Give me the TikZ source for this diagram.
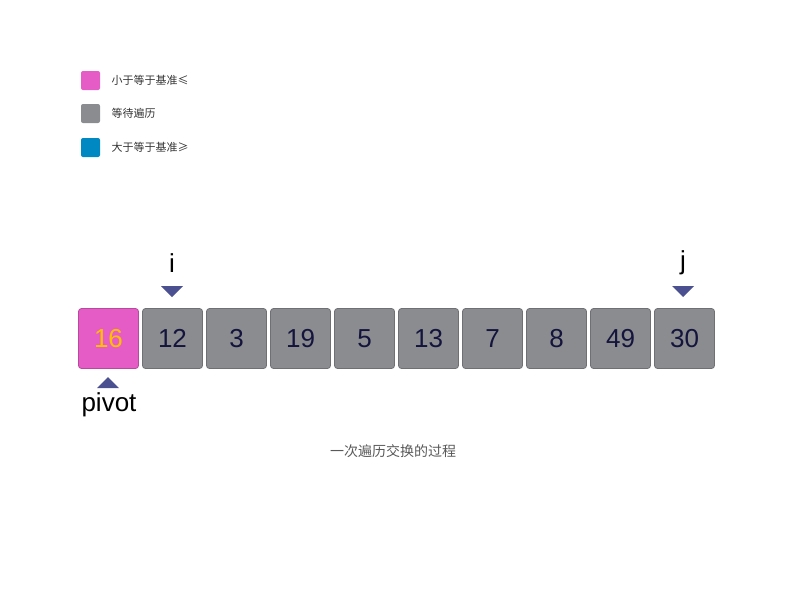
\documentclass[tikz,border=0pt]{standalone}
\usepackage{fontspec}
\setmainfont{Liberation Sans}
\newfontfamily\cjk{Noto Sans CJK SC}
\begin{document}
\begin{tikzpicture}[x=1pt,y=-1pt,
  cell/.style={rounded corners=3pt,draw=#1!80!black,line width=0.8pt,fill=#1,minimum width=60pt,minimum height=60pt,font=\fontsize{26}{26}\selectfont,text=numc,inner sep=0pt},
  leg/.style={rounded corners=2pt,fill=#1,minimum size=19pt,inner sep=0pt},
  legt/.style={anchor=west,font=\cjk\fontsize{11}{11}\selectfont,text=black!80},
  tri/.style={fill=tric,inner sep=0pt}]
\definecolor{pinkc}{HTML}{E65CC6}
\definecolor{grayc}{HTML}{8A8C90}
\definecolor{bluec}{HTML}{0088C2}
\definecolor{tric}{HTML}{4A5090}
\definecolor{numc}{HTML}{14143C}
\definecolor{pivc}{HTML}{FFC000}
\useasboundingbox (0,0) rectangle (800,600);
\node[leg=pinkc] (l1) at (90.5,80.5) {};
\node[leg=grayc] (l2) at (90.5,113.5) {};
\node[leg=bluec] (l3) at (90.5,147.5) {};
\node[legt] (t1) at (108,80.5) {小于等于基准≤};
\node[legt] (t2) at (108,113.5) {等待遍历};
\node[legt] (t3) at (108,147.5) {大于等于基准≥};
\node[cell=pinkc,text=pivc] (c0) at (108.5,338.5) {16};
\foreach \v [count=\k] in {12,3,19,5,13,7,8,49,30}
  \node[cell=grayc] (c\k) at (108.5+64*\k,338.5) {\v};
\fill[tric] (161,286) -- (183,286) -- (172,297) -- cycle;
\fill[tric] (672,286) -- (694,286) -- (683,297) -- cycle;
\fill[tric] (97,388) -- (119,388) -- (108,377) -- cycle;
\node[font=\fontsize{26}{26}\selectfont] (i) at (172,263) {i};
\node[font=\fontsize{26}{26}\selectfont] (j) at (683,263) {j};
\node[font=\fontsize{26}{26}\selectfont] (p) at (109,405) {pivot};
\node[font=\cjk\fontsize{14}{14}\selectfont,text=black!65] (cap) at (393,451) {一次遍历交换的过程};
\end{tikzpicture}
\end{document}
